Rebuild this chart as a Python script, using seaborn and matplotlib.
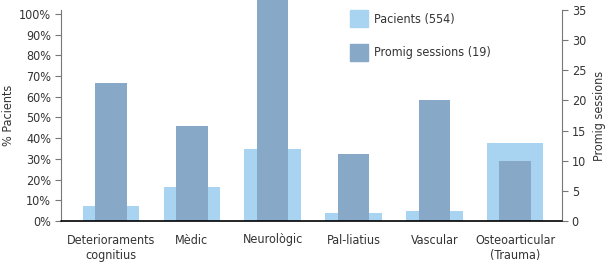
import matplotlib
matplotlib.use('Agg')
import matplotlib.pyplot as plt
import seaborn as sns
from matplotlib.patches import Patch
from matplotlib.ticker import FuncFormatter

# dades
categories = ['Deterioraments\ncognitius', 'Mèdic', 'Neurològic', 'Pal-liatius',
              'Vascular', 'Osteoarticular\n(Trauma)']
pacients = [7.2, 16.4, 34.8, 4.0, 5.0, 37.7]
sessions = [22.9, 15.8, 40.0, 11.1, 20.1, 10.0]
legend_labels = ['Pacients (554)', 'Promig sessions (19)']

light = '#a9d4f1'
dark = '#88a8c8'
txt = '#333333'

sns.set_style('white')
plt.rcParams['font.family'] = ['DejaVu Sans']
plt.rcParams['font.stretch'] = 'condensed'
plt.rcParams['font.size'] = 9

fig = plt.figure(figsize=(6.06, 2.70), dpi=100)
ax = fig.add_axes([61/606, 49/270, 501/606, 211/270])

sns.barplot(x=categories, y=pacients, ax=ax, color=light, width=0.7,
            saturation=1, errorbar=None, linewidth=0)
ax2 = ax.twinx()
sns.barplot(x=categories, y=sessions, ax=ax2, color=dark, width=0.39,
            saturation=1, errorbar=None, linewidth=0)
for p in ax2.patches:
    p.set_clip_on(False)

ax.set_xlim(-0.62, 5.58)
ax.set_ylim(0, 101.9)
ax.set_yticks(range(0, 101, 10))
ax.yaxis.set_major_formatter(FuncFormatter(lambda v, _: f'{int(v)}%'))
ax2.set_ylim(0, 35)
ax2.set_yticks(range(0, 36, 5))

ax.set_ylabel('% Pacients', color=txt, labelpad=3)
ax2.set_ylabel('Promig sessions', color=txt, labelpad=5)

for a in (ax, ax2):
    for s in a.spines.values():
        s.set_visible(False)
ax.spines['left'].set_visible(True)
ax.spines['left'].set_color('#777777')
ax.spines['left'].set_linewidth(0.8)
ax2.spines['right'].set_visible(True)
ax2.spines['right'].set_color('#777777')
ax2.spines['right'].set_linewidth(0.8)
ax2.axhline(0, color='black', lw=1.2, clip_on=False, zorder=5)

ax.tick_params(axis='y', left=True, length=4, width=0.8, color='#777777',
               labelcolor=txt, pad=3)
ax2.tick_params(axis='y', right=True, length=4, width=0.8, color='#777777',
                labelcolor=txt, pad=3)
ax.tick_params(axis='x', length=0, labelcolor=txt, pad=9)
ax2.tick_params(axis='x', length=0)
ax.set_xlabel('')
ax2.set_xlabel('')

handles = [Patch(color=light), Patch(color=dark)]
ax2.legend(handles, legend_labels, loc='upper left', bbox_to_anchor=(0.577, 1.0),
           frameon=False, handlelength=1.45, handleheight=1.75, labelspacing=1.3,
           handletextpad=0.5, borderpad=0, borderaxespad=0, labelcolor=txt)

fig.savefig('out.png', dpi=100)
